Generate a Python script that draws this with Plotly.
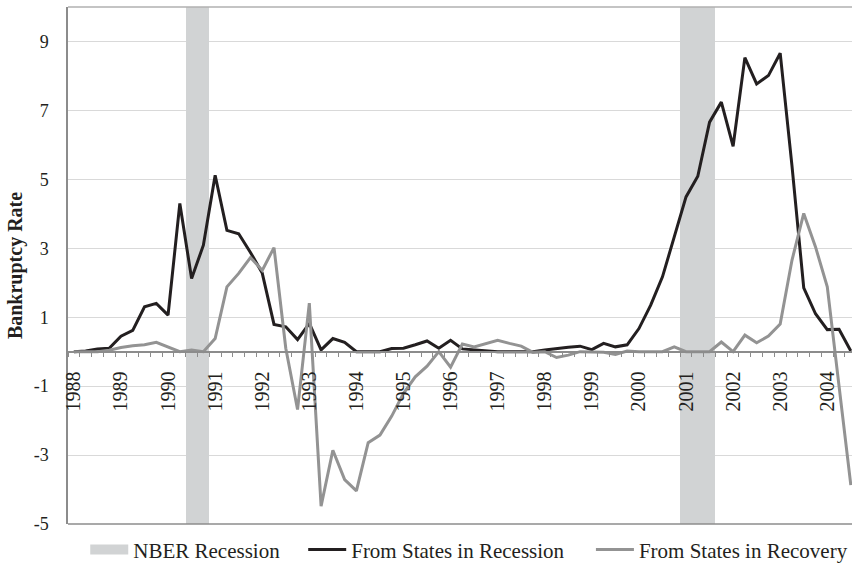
import plotly.graph_objects as go

years = [str(y) for y in range(1988, 2005)]
quarters = [f"{y}Q{q}" for y in range(1988, 2005) for q in range(1, 5)][:67]

recession_vals = [0.0, 0.02, 0.08, 0.1, 0.45, 0.62, 1.3, 1.4, 1.06, 4.3, 2.12, 3.09, 5.12,
                  3.52, 3.42, 2.88, 2.28, 0.79, 0.72, 0.35, 0.82, 0.05, 0.38, 0.27, 0.0,
                  0.0, 0.0, 0.09, 0.1, 0.2, 0.31, 0.1, 0.33, 0.08, 0.05, 0.02, 0.0,
                  0.0, 0.0, 0.0, 0.05, 0.1, 0.13, 0.16, 0.06, 0.24, 0.14, 0.2, 0.67,
                  1.35, 2.17, 3.33, 4.49, 5.09, 6.66, 7.24, 5.96, 8.53, 7.77, 8.01, 8.66,
                  5.4, 1.85, 1.1, 0.64, 0.65, 0.02]

recovery_vals = [0.0, 0.0, 0.0, 0.04, 0.12, 0.17, 0.2, 0.27, 0.14, 0.0, 0.05, 0.0,
                 0.38, 1.88, 2.27, 2.73, 2.36, 3.02, 0.1, -1.68, 1.41, -4.48, -2.86, -3.71,
                 -4.04, -2.64, -2.42, -1.87, -1.21, -0.73, -0.42, 0.0, -0.45, 0.22, 0.14, 0.24,
                 0.33, 0.24, 0.16, -0.02, 0.0, -0.17, -0.1, 0.0, 0.0, -0.02, -0.08, 0.02,
                 0.0, 0.0, 0.0, 0.14, 0.0, 0.0, 0.0, 0.28, 0.0, 0.48, 0.26, 0.45,
                 0.8, 2.65, 4.01, 3.04, 1.88, -1.0, -3.87]

nber_quarters = ["1990Q3", "1990Q4", "2001Q1", "2001Q2", "2001Q3"]

y_min, y_max = -5, 10
y_ticks = [-5, -3, -1, 1, 3, 5, 7, 9]

idx = list(range(len(quarters)))
nber_flag = [(y_max - y_min) if q in nber_quarters else 0 for q in quarters]

FONT = "Liberation Serif"
TXT = "#231f20"
AXIS = "#8c8c8c"
BAND = "#d1d3d4"

fig = go.Figure()
fig.add_trace(go.Bar(x=idx, y=nber_flag, base=y_min, width=1,
                     marker=dict(color=BAND, line=dict(width=0)),
                     name="NBER Recession", showlegend=False))
# legend key for the recession band (wide box like the original)
fig.add_trace(go.Scatter(x=[None], y=[None], mode="lines",
                         line=dict(color=BAND, width=11),
                         name="NBER Recession", legend="legend"))
fig.add_trace(go.Scatter(x=idx, y=recession_vals, mode="lines",
                         line=dict(color="#231f20", width=3),
                         name="From States in Recession", legend="legend2"))
fig.add_trace(go.Scatter(x=idx, y=recovery_vals, mode="lines",
                         line=dict(color="#939393", width=3),
                         name="From States in Recovery", legend="legend3"))

leg_common = dict(orientation="h", xanchor="left", y=-0.05, yanchor="middle",
                  font=dict(size=21, family=FONT, color=TXT),
                  bgcolor="rgba(0,0,0,0)", itemwidth=38)

fig.update_layout(
    width=854, height=566,
    margin=dict(l=68, r=2, t=7, b=42, autoexpand=False),
    paper_bgcolor="white", plot_bgcolor="white",
    font=dict(family=FONT, color=TXT),
    bargap=0,
    showlegend=True,
    legend=dict(x=0.022, **leg_common),
    legend2=dict(x=0.300, **leg_common),
    legend3=dict(x=0.667, **leg_common),
    xaxis=dict(
        range=[-0.5, 66.1], automargin=False,
        anchor="free", position=(0 - y_min) / (y_max - y_min),
        tickmode="array",
        tickvals=[quarters.index(y + "Q1") for y in years],
        ticktext=years,
        tickangle=-90,
        tickfont=dict(size=20, family=FONT, color=TXT),
        ticks="outside", ticklen=6, tickcolor="rgba(0,0,0,0)",
        ticklabelstandoff=5,
        showgrid=False, zeroline=False,
        showline=True, linecolor=AXIS, linewidth=1.5,
        minor=dict(tickmode="array", tickvals=[i - 0.5 for i in range(68)],
                   ticks="outside", ticklen=5, tickcolor=AXIS, tickwidth=1,
                   showgrid=False),
    ),
    yaxis=dict(
        range=[y_min, y_max], automargin=False,
        tickmode="array", tickvals=y_ticks,
        ticktext=[str(v) for v in y_ticks],
        tickfont=dict(size=18, family=FONT, color=TXT),
        showgrid=True, gridcolor="#d9d9d9", gridwidth=1,
        zeroline=False,
        showline=True, linecolor=AXIS, linewidth=1.5,
        ticks="", ticklabelstandoff=14,
        title=dict(text="<b>Bankruptcy Rate</b>", font=dict(size=20, family=FONT, color=TXT),
                   standoff=6),
    ),
    shapes=[
        dict(type="line", xref="paper", yref="paper", x0=0, x1=1, y0=1, y1=1,
             line=dict(color="#b0b0b0", width=1.5)),
        dict(type="line", xref="paper", yref="paper", x0=0, x1=1, y0=0, y1=0,
             line=dict(color=AXIS, width=1.5)),
    ],
)

fig.write_html("out.html", config={"displayModeBar": False},
               post_script="document.body.style.margin='0px';")
